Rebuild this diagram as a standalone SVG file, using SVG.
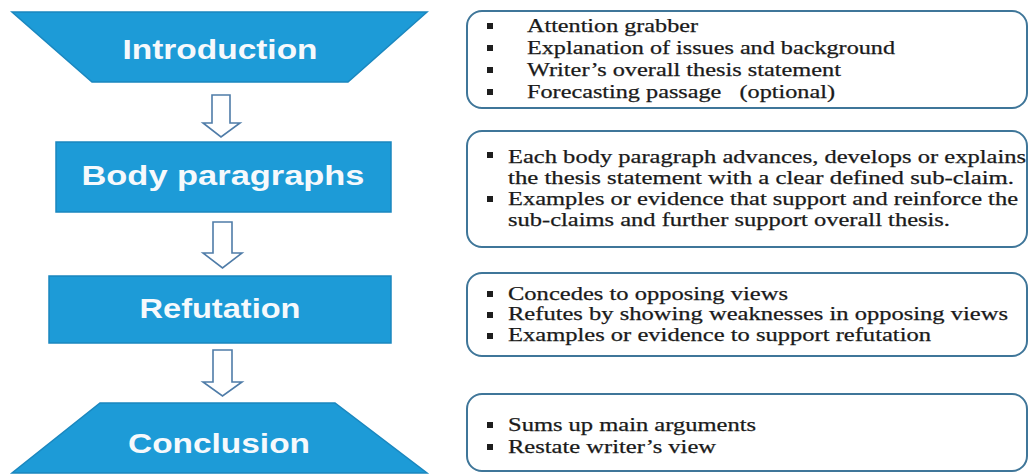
<svg xmlns="http://www.w3.org/2000/svg" width="1029" height="475" viewBox="0 0 1029 475">
  <style>
    .stage { fill: #1d9bd7; stroke: #1a87bf; stroke-width: 1.5; }
    .stage-label { font-family: "Liberation Sans", Arial, sans-serif; font-weight: bold; font-size: 28px; fill: #f6f9fc; text-anchor: middle; }
    .note { fill: #ffffff; stroke: #3f7699; stroke-width: 2; }
    .note-text { font-family: "Liberation Serif", "Times New Roman", serif; font-size: 19px; fill: #1a1a1a; stroke: #1a1a1a; stroke-width: 0.25; }
    .bullet { fill: #1e1e1e; }
    .flow { fill: #ffffff; stroke: #4f7ca8; stroke-width: 1.6; stroke-linejoin: miter; }
  </style>

  <rect width="1029" height="475" fill="#ffffff"/>

  <!-- Stages on the left -->
  <g id="introduction">
    <polygon class="stage" points="12,12 427,12 348,82 92,82"/>
    <text class="stage-label" x="220" y="59" textLength="195" lengthAdjust="spacingAndGlyphs">Introduction</text>
  </g>

  <g id="body-paragraphs">
    <rect class="stage" x="56" y="142" width="335" height="70"/>
    <text class="stage-label" x="223" y="185" textLength="283" lengthAdjust="spacingAndGlyphs">Body paragraphs</text>
  </g>

  <g id="refutation">
    <rect class="stage" x="49" y="276" width="342" height="67"/>
    <text class="stage-label" x="220" y="318" textLength="161" lengthAdjust="spacingAndGlyphs">Refutation</text>
  </g>

  <g id="conclusion">
    <polygon class="stage" points="100,403 335,403 427,473 12,473"/>
    <text class="stage-label" x="219" y="453" textLength="182" lengthAdjust="spacingAndGlyphs">Conclusion</text>
  </g>

  <!-- Hollow down arrows between stages -->
  <g id="connectors">
    <polygon class="flow" points="212,95 230,95 230,123 240,123 221,137 203,123 212,123"/>
    <polygon class="flow" points="213,222 232,222 232,253 242,253 222.5,268 203,253 213,253"/>
    <polygon class="flow" points="213,350 232,350 232,382 242,382 222.5,396 203,382 213,382"/>
  </g>

  <!-- Notes on the right -->
  <g id="introduction-notes">
    <rect class="note" x="467" y="11" width="560" height="97" rx="15"/>
    <rect class="bullet" x="487" y="23" width="6" height="6"/>
    <rect class="bullet" x="487" y="45" width="6" height="6"/>
    <rect class="bullet" x="487" y="67" width="6" height="6"/>
    <rect class="bullet" x="487" y="89" width="6" height="6"/>
    <text class="note-text" x="527" y="32" textLength="171" lengthAdjust="spacingAndGlyphs">Attention grabber</text>
    <text class="note-text" x="527" y="54" textLength="368" lengthAdjust="spacingAndGlyphs">Explanation of issues and background</text>
    <text class="note-text" x="527" y="76" textLength="314" lengthAdjust="spacingAndGlyphs">Writer’s overall thesis statement</text>
    <text class="note-text" x="527" y="98" textLength="308" lengthAdjust="spacingAndGlyphs">Forecasting passage&#160;&#160;&#160;(optional)</text>
  </g>

  <g id="body-notes">
    <rect class="note" x="467" y="131" width="560" height="116" rx="15"/>
    <rect class="bullet" x="487" y="152" width="6" height="6"/>
    <rect class="bullet" x="487" y="196" width="6" height="6"/>
    <text class="note-text" x="508" y="163" textLength="518" lengthAdjust="spacingAndGlyphs">Each body paragraph advances, develops or explains</text>
    <text class="note-text" x="508" y="184" textLength="506" lengthAdjust="spacingAndGlyphs">the thesis statement with a clear defined sub-claim.</text>
    <text class="note-text" x="508" y="205" textLength="510" lengthAdjust="spacingAndGlyphs">Examples or evidence that support and reinforce the</text>
    <text class="note-text" x="508" y="226" textLength="442" lengthAdjust="spacingAndGlyphs">sub-claims and further support overall thesis.</text>
  </g>

  <g id="refutation-notes">
    <rect class="note" x="467" y="273" width="560" height="83" rx="15"/>
    <rect class="bullet" x="487" y="291" width="6" height="6"/>
    <rect class="bullet" x="487" y="312" width="6" height="6"/>
    <rect class="bullet" x="487" y="333" width="6" height="6"/>
    <text class="note-text" x="508" y="300" textLength="280" lengthAdjust="spacingAndGlyphs">Concedes to opposing views</text>
    <text class="note-text" x="508" y="320" textLength="500" lengthAdjust="spacingAndGlyphs">Refutes by showing weaknesses in opposing views</text>
    <text class="note-text" x="508" y="341" textLength="423" lengthAdjust="spacingAndGlyphs">Examples or evidence to support refutation</text>
  </g>

  <g id="conclusion-notes">
    <rect class="note" x="467" y="394" width="560" height="77" rx="15"/>
    <rect class="bullet" x="487" y="422" width="6" height="6"/>
    <rect class="bullet" x="487" y="444" width="6" height="6"/>
    <text class="note-text" x="508" y="431" textLength="248" lengthAdjust="spacingAndGlyphs">Sums up main arguments</text>
    <text class="note-text" x="508" y="453" textLength="208" lengthAdjust="spacingAndGlyphs">Restate writer’s view</text>
  </g>
</svg>
